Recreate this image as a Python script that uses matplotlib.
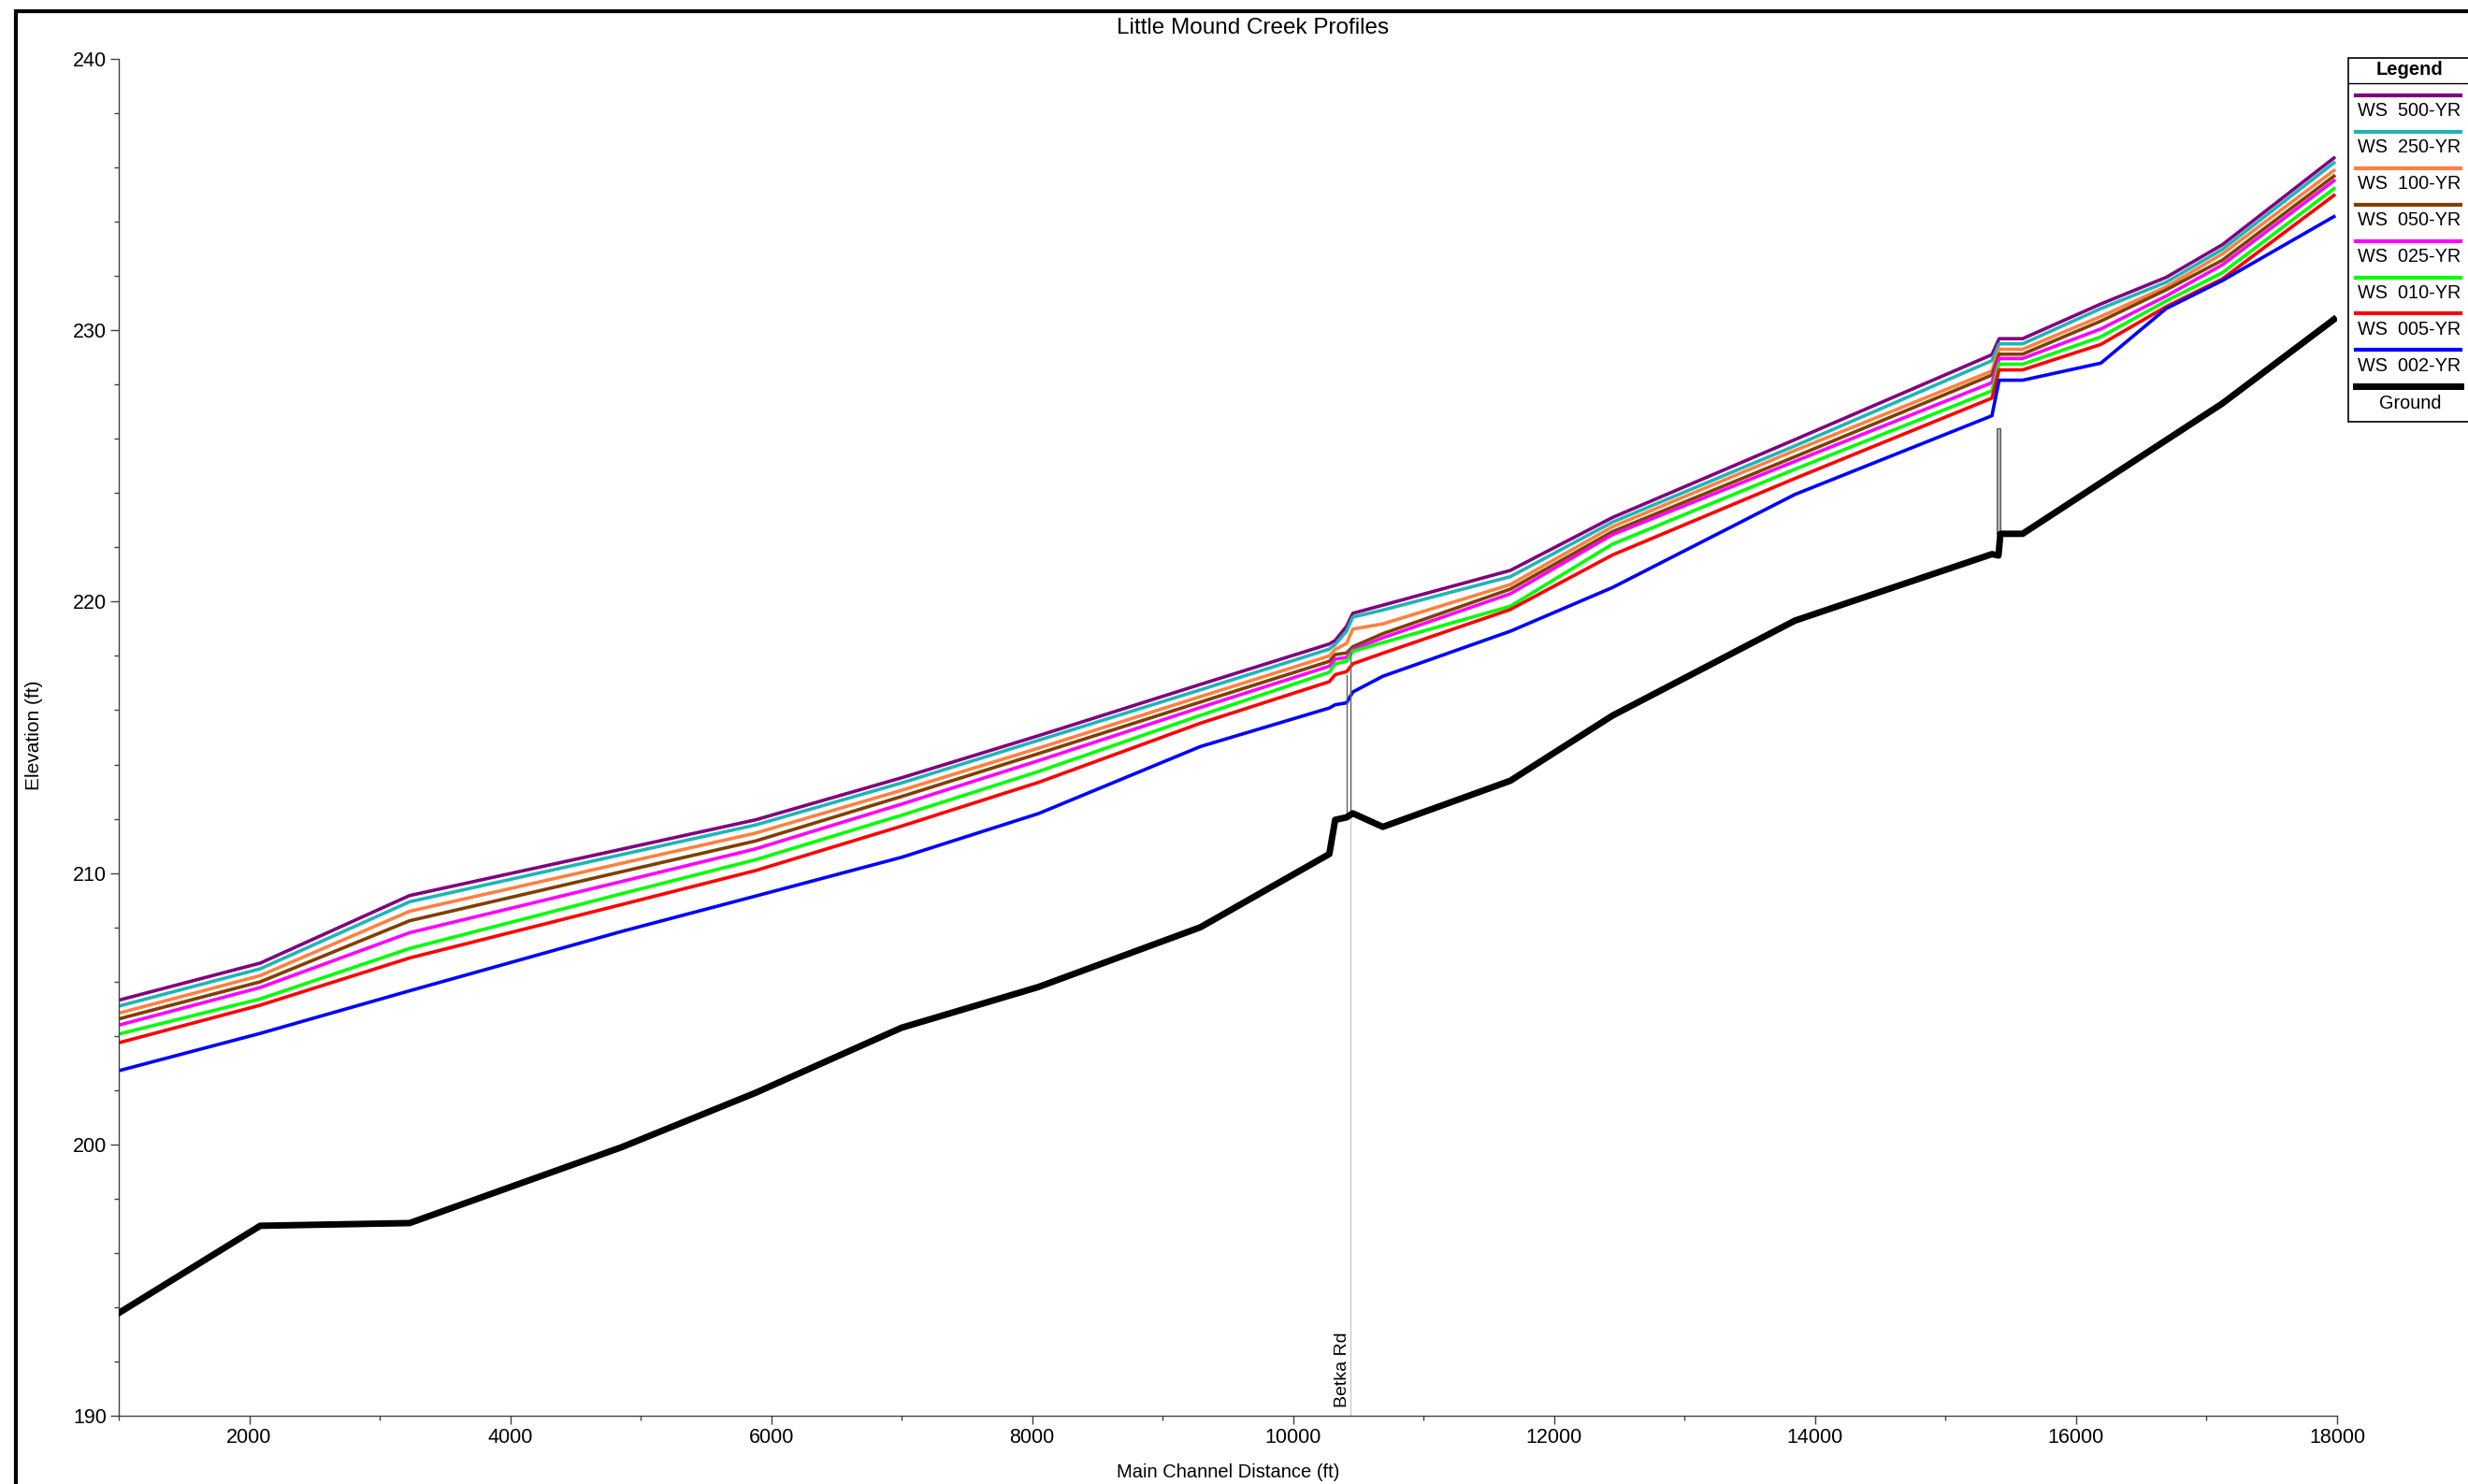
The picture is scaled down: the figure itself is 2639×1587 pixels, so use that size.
import numpy as np
import matplotlib.pyplot as plt
from matplotlib.lines import Line2D
from matplotlib.patches import Rectangle
from matplotlib.ticker import MultipleLocator

plt.rcParams['font.family'] = ['Liberation Sans', 'DejaVu Sans']

# estaciones del perfil (ft)
sta_ground = [1005, 2084, 3229, 4856, 5880, 7000, 8048, 9289, 10277, 10322, 10409,
              10457, 10687, 11664, 12447, 13845, 15355, 15405, 15420, 15590, 17120, 17976]
elev_ground = [193.8, 197.0, 197.1, 199.9, 201.9, 204.3, 205.8, 208.0, 210.7, 211.96, 212.05,
               212.2, 211.7, 213.4, 215.8, 219.3, 221.75, 221.7, 222.5, 222.5, 227.3, 230.4]

sta_ws = [1005, 2084, 3229, 4856, 5880, 7000, 8048, 9289, 10277, 10322, 10409, 10457,
          10687, 11664, 12447, 13845, 15355, 15410, 15590, 16190, 16690, 17120, 17976]

ws_500 = [205.32, 206.68, 209.17, 210.88, 211.96, 213.51, 215.06, 216.95, 218.44, 218.57, 219.09, 219.57,
          219.87, 221.15, 223.10, 225.97, 229.10, 229.69, 229.69, 230.97, 231.95, 233.15, 236.35]
ws_250 = [205.10, 206.47, 208.94, 210.68, 211.77, 213.32, 214.89, 216.75, 218.25, 218.42, 218.91, 219.43,
          219.69, 220.92, 222.93, 225.74, 228.88, 229.50, 229.50, 230.80, 231.77, 232.98, 236.17]
ws_100 = [204.84, 206.22, 208.59, 210.36, 211.47, 213.05, 214.60, 216.50, 218.00, 218.24, 218.46, 218.99,
          219.18, 220.63, 222.76, 225.57, 228.50, 229.30, 229.30, 230.51, 231.60, 232.81, 235.89]
ws_050 = [204.63, 205.99, 208.24, 210.05, 211.18, 212.82, 214.40, 216.30, 217.80, 218.05, 218.11, 218.34,
          218.82, 220.46, 222.58, 225.34, 228.35, 229.12, 229.12, 230.34, 231.49, 232.58, 235.68]
ws_025 = [204.40, 205.78, 207.80, 209.69, 210.89, 212.54, 214.14, 216.10, 217.62, 217.88, 217.94, 218.23,
          218.67, 220.29, 222.47, 225.17, 228.07, 228.96, 228.96, 230.05, 231.26, 232.41, 235.51]
ws_010 = [204.07, 205.36, 207.22, 209.24, 210.49, 212.13, 213.74, 215.81, 217.40, 217.71, 217.80, 218.17,
          218.49, 219.83, 222.12, 224.88, 227.77, 228.75, 228.75, 229.76, 231.08, 232.12, 235.22]
ws_005 = [203.75, 205.13, 206.87, 208.84, 210.09, 211.73, 213.34, 215.52, 217.05, 217.31, 217.42, 217.71,
          218.10, 219.71, 221.72, 224.54, 227.50, 228.54, 228.54, 229.48, 230.87, 231.89, 234.97]
ws_002 = [202.72, 204.09, 205.66, 207.85, 209.15, 210.58, 212.19, 214.66, 216.08, 216.20, 216.27, 216.67,
          217.25, 218.91, 220.52, 223.95, 226.85, 228.16, 228.16, 228.79, 230.80, 231.83, 234.19]

perfiles = [ws_500, ws_250, ws_100, ws_050, ws_025, ws_010, ws_005, ws_002]
nombres = ['WS  500-YR', 'WS  250-YR', 'WS  100-YR', 'WS  050-YR',
           'WS  025-YR', 'WS  010-YR', 'WS  005-YR', 'WS  002-YR']
colores = ['#800080', '#1fb5b5', '#ff8040', '#804000', '#ff00ff', '#00ff00', '#ff0000', '#0000ff']

# puente Betka Rd y estructura aguas arriba
puente_x = [10409, 10440]
puente_top = [217.3, 218.16]
estructura_x = 15405
estructura_y = [222.5, 226.4]

W, H = 2639, 1587
fig = plt.figure(figsize=(W / 100, H / 100), dpi=100)
ax = fig.add_axes([127 / W, 1 - 1514 / H, (2499 - 127) / W, (1514 - 63) / H])

for y, c in zip(perfiles, colores):
    ax.plot(sta_ws, y, color=c, lw=2.6)

# puente
ax.plot([puente_x[1], puente_x[1]], [190, puente_top[1]], color='#c8c8c8', lw=0.9)
for px, pt in zip(puente_x, puente_top):
    ax.plot([px, px], [np.interp(px, sta_ground, elev_ground), pt], color='#606060', lw=1.0)
ax.add_patch(Rectangle((estructura_x - 12, estructura_y[0]), 24, estructura_y[1] - estructura_y[0],
                       facecolor='#b0b0b0', edgecolor='#505050', lw=0.8, zorder=3))

ax.plot(sta_ground, elev_ground, color='black', lw=5, zorder=4)

ax.text(10380, 190.3, 'Betka Rd', rotation=90, ha='center', va='bottom', fontsize=14)

ax.set_xlim(1000, 18000)
ax.set_ylim(190, 240)
ax.xaxis.set_major_locator(MultipleLocator(2000))
ax.xaxis.set_minor_locator(MultipleLocator(1000))
ax.yaxis.set_major_locator(MultipleLocator(10))
ax.yaxis.set_minor_locator(MultipleLocator(2))
ax.set_xticks(range(2000, 18001, 2000))
for s in ['top', 'right']:
    ax.spines[s].set_visible(False)
for s in ['left', 'bottom']:
    ax.spines[s].set_color('#404040')
    ax.spines[s].set_linewidth(1.0)
ax.tick_params(which='major', length=6.5, width=1, color='#404040', labelsize=15.5, pad=3)
ax.tick_params(which='minor', length=3.6, width=1, color='#404040')

fig.text(1340 / W, 1 - 30 / H, 'Little Mound Creek Profiles', ha='center', va='center', fontsize=17.5)
fig.text(1313 / W, 1 - 1574 / H, 'Main Channel Distance (ft)', ha='center', va='center', fontsize=14.5)
fig.text(37 / W, 1 - 786 / H, 'Elevation (ft)', ha='center', va='center', rotation=90, fontsize=15)

# marco exterior
fig.patches.append(Rectangle((17 / W, -0.1), 1.2, 1.1 - 12 / H, transform=fig.transFigure,
                             fill=False, edgecolor='black', lw=3))

# leyenda
fig.patches.append(Rectangle((2511 / W, 1 - 451 / H), 200 / W, (451 - 62) / H,
                             transform=fig.transFigure, facecolor='white', edgecolor='black', lw=1.2))
fig.text(2577 / W, 1 - 74 / H, 'Legend', ha='center', va='center', fontsize=14.5, fontweight='bold')
fig.lines.append(Line2D([2511 / W, 1], [1 - 89 / H] * 2, transform=fig.transFigure, color='black', lw=1))
for i, (n, c) in enumerate(zip(nombres, colores)):
    yl = 102 + 38.9 * i
    fig.lines.append(Line2D([2519 / W, 2631 / W], [1 - yl / H] * 2, transform=fig.transFigure, color=c, lw=3))
    fig.text(2521 / W, 1 - (yl + 17) / H, n, ha='left', va='center', fontsize=14.3)
yl = 102 + 38.9 * 8
fig.lines.append(Line2D([2519 / W, 2631 / W], [1 - yl / H] * 2, transform=fig.transFigure, color='black', lw=5))
fig.text(2577 / W, 1 - (yl + 18) / H, 'Ground', ha='center', va='center', fontsize=14.3)

plt.savefig('out.png')
